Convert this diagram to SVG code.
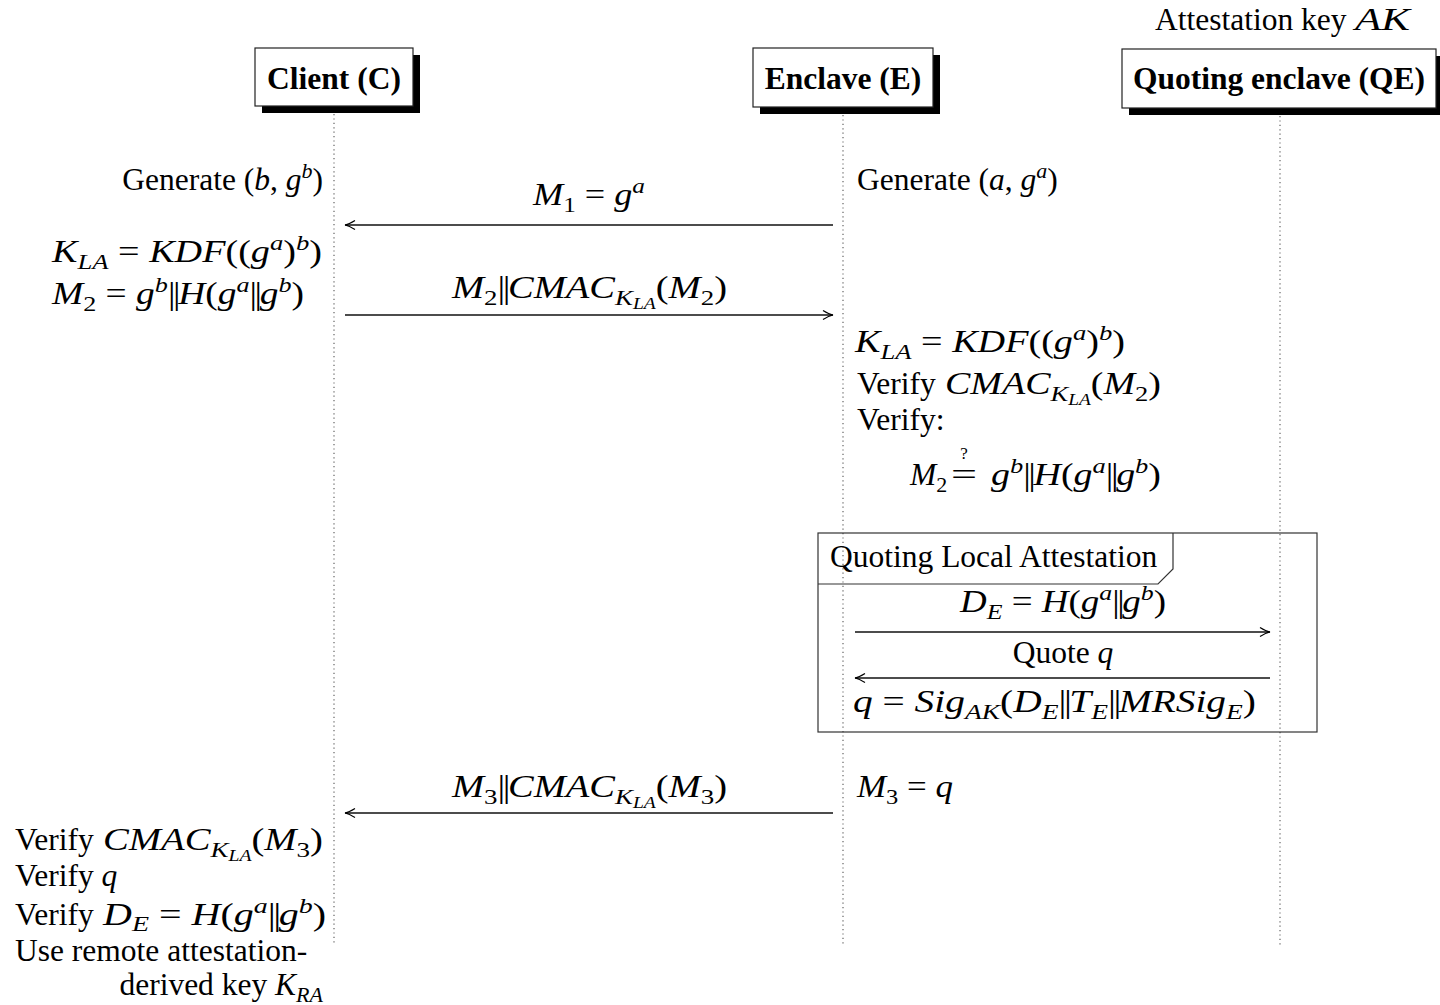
<svg xmlns="http://www.w3.org/2000/svg" width="1440" height="1005" viewBox="0 0 1440 1005">
<style>
text{font-family:"Liberation Serif","Times New Roman",serif;font-size:31.5px;fill:#000}
.b{font-weight:bold}
.i{font-style:italic}
.s{font-size:22px}
.ss{font-size:16px}
.q{font-size:17px}
.bar{letter-spacing:-2px}
.box{fill:#fff;stroke:#222;stroke-width:1.2}
.shadow{fill:#000}
.life{stroke:#555;stroke-width:1.1;stroke-dasharray:1.2 3.2;fill:none}
.msg{stroke:#111;stroke-width:1.3;fill:none;marker-end:url(#ah)}
.frame{fill:none;stroke:#333;stroke-width:1.2}
</style>
<defs>
<marker id="ah" markerUnits="userSpaceOnUse" markerWidth="14" markerHeight="12" viewBox="-12 -6 14 12" refX="0" refY="0" orient="auto" overflow="visible">
<path d="M-10,-4.5 C-6,-2 -3,-0.6 0,0 C-3,0.6 -6,2 -10,4.5" fill="none" stroke="#000" stroke-width="1.2"/>
</marker>
</defs>

<g id="qe-key">
<text x="1155" y="30">Attestation key</text>
<text class="i" x="1355" y="30" textLength="55" lengthAdjust="spacingAndGlyphs">AK</text>
</g>

<g id="client">
<rect class="shadow" x="262" y="55" width="158" height="58"/>
<rect class="box" x="255" y="48" width="158" height="58"/>
<text class="b" x="334" y="89" text-anchor="middle">Client (C)</text>
</g>
<g id="enclave">
<rect class="shadow" x="760" y="55" width="180" height="59"/>
<rect class="box" x="753" y="48" width="180" height="59"/>
<text class="b" x="843" y="89" text-anchor="middle">Enclave (E)</text>
</g>
<g id="qe">
<rect class="shadow" x="1129" y="56" width="314" height="59"/>
<rect class="box" x="1122" y="49" width="314" height="59"/>
<text class="b" x="1279" y="89" text-anchor="middle">Quoting enclave (QE)</text>
</g>

<g id="lifelines">
<line class="life" x1="334" y1="114" x2="334" y2="945"/>
<line class="life" x1="843" y1="115" x2="843" y2="945"/>
<line class="life" x1="1280" y1="116" x2="1280" y2="945"/>
</g>

<g id="frame">
<rect class="frame" x="818" y="533" width="499" height="199"/>
<path class="frame" d="M818,584 L1158,584 L1173,569 L1173,533"/>
<text x="830" y="567">Quoting Local Attestation</text>
</g>

<g id="connectors">
<line class="msg" x1="833" y1="225" x2="345" y2="225"/>
<line class="msg" x1="345" y1="315" x2="833" y2="315"/>
<line class="msg" x1="855" y1="632" x2="1270" y2="632"/>
<line class="msg" x1="1270" y1="678" x2="855" y2="678"/>
<line class="msg" x1="833" y1="813" x2="345" y2="813"/>
</g>

<g id="labels">
<text x="533" y="205" textLength="112" lengthAdjust="spacingAndGlyphs"><tspan class="i">M</tspan><tspan class="s" dy="7">1</tspan><tspan dy="-7"> = </tspan><tspan class="i">g</tspan><tspan class="i s" dy="-12">a</tspan></text>
<text x="452" y="298" textLength="275" lengthAdjust="spacingAndGlyphs"><tspan class="i">M</tspan><tspan class="s" dy="7">2</tspan><tspan class="bar" dy="-7">||</tspan><tspan class="i">CMAC</tspan><tspan class="i s" dy="7">K</tspan><tspan class="i ss" dy="4">LA</tspan><tspan dy="-11">(</tspan><tspan class="i">M</tspan><tspan class="s" dy="7">2</tspan><tspan dy="-7">)</tspan></text>
<text x="960" y="612" textLength="206" lengthAdjust="spacingAndGlyphs"><tspan class="i">D</tspan><tspan class="i s" dy="7">E</tspan><tspan dy="-7"> = </tspan><tspan class="i">H</tspan><tspan>(</tspan><tspan class="i">g</tspan><tspan class="i s" dy="-12">a</tspan><tspan class="bar" dy="12">||</tspan><tspan class="i">g</tspan><tspan class="i s" dy="-12">b</tspan><tspan dy="12">)</tspan></text>
<text x="1063" y="663" text-anchor="middle">Quote <tspan class="i">q</tspan></text>
<text x="853" y="712" textLength="403" lengthAdjust="spacingAndGlyphs"><tspan class="i">q</tspan><tspan> = </tspan><tspan class="i">Sig</tspan><tspan class="i s" dy="7">AK</tspan><tspan dy="-7">(</tspan><tspan class="i">D</tspan><tspan class="i s" dy="7">E</tspan><tspan class="bar" dy="-7">||</tspan><tspan class="i">T</tspan><tspan class="i s" dy="7">E</tspan><tspan class="bar" dy="-7">||</tspan><tspan class="i">MRSig</tspan><tspan class="i s" dy="7">E</tspan><tspan dy="-7">)</tspan></text>
<text x="452" y="797" textLength="275" lengthAdjust="spacingAndGlyphs"><tspan class="i">M</tspan><tspan class="s" dy="7">3</tspan><tspan class="bar" dy="-7">||</tspan><tspan class="i">CMAC</tspan><tspan class="i s" dy="7">K</tspan><tspan class="i ss" dy="4">LA</tspan><tspan dy="-11">(</tspan><tspan class="i">M</tspan><tspan class="s" dy="7">3</tspan><tspan dy="-7">)</tspan></text>
</g>

<g id="client-notes">
<text x="323" y="190" text-anchor="end">Generate (<tspan class="i">b</tspan>, <tspan class="i">g</tspan><tspan class="i s" dy="-12">b</tspan><tspan dy="12">)</tspan></text>
<text x="52" y="262" textLength="270" lengthAdjust="spacingAndGlyphs"><tspan class="i">K</tspan><tspan class="i s" dy="7">LA</tspan><tspan dy="-7"> = </tspan><tspan class="i">KDF</tspan><tspan>((</tspan><tspan class="i">g</tspan><tspan class="i s" dy="-12">a</tspan><tspan dy="12">)</tspan><tspan class="i s" dy="-12">b</tspan><tspan dy="12">)</tspan></text>
<text x="52" y="304" textLength="252" lengthAdjust="spacingAndGlyphs"><tspan class="i">M</tspan><tspan class="s" dy="7">2</tspan><tspan dy="-7"> = </tspan><tspan class="i">g</tspan><tspan class="i s" dy="-12">b</tspan><tspan class="bar" dy="12">||</tspan><tspan class="i">H</tspan><tspan>(</tspan><tspan class="i">g</tspan><tspan class="i s" dy="-12">a</tspan><tspan class="bar" dy="12">||</tspan><tspan class="i">g</tspan><tspan class="i s" dy="-12">b</tspan><tspan dy="12">)</tspan></text>
<text x="15" y="850">Verify</text>
<text x="103" y="850" textLength="220" lengthAdjust="spacingAndGlyphs"><tspan class="i">CMAC</tspan><tspan class="i s" dy="7">K</tspan><tspan class="i ss" dy="4">LA</tspan><tspan dy="-11">(</tspan><tspan class="i">M</tspan><tspan class="s" dy="7">3</tspan><tspan dy="-7">)</tspan></text>
<text x="15" y="886">Verify <tspan class="i">q</tspan></text>
<text x="15" y="925">Verify</text>
<text x="103" y="925" textLength="223" lengthAdjust="spacingAndGlyphs"><tspan class="i">D</tspan><tspan class="i s" dy="6">E</tspan><tspan dy="-6"> = </tspan><tspan class="i">H</tspan><tspan>(</tspan><tspan class="i">g</tspan><tspan class="i s" dy="-12">a</tspan><tspan class="bar" dy="12">||</tspan><tspan class="i">g</tspan><tspan class="i s" dy="-12">b</tspan><tspan dy="12">)</tspan></text>
<text x="15" y="961">Use remote attestation-</text>
<text x="323" y="995" text-anchor="end">derived key <tspan class="i">K</tspan><tspan class="i s" dy="7">RA</tspan></text>
</g>

<g id="enclave-notes">
<text x="857" y="190">Generate (<tspan class="i">a</tspan>, <tspan class="i">g</tspan><tspan class="i s" dy="-12">a</tspan><tspan dy="12">)</tspan></text>
<text x="855" y="352" textLength="270" lengthAdjust="spacingAndGlyphs"><tspan class="i">K</tspan><tspan class="i s" dy="7">LA</tspan><tspan dy="-7"> = </tspan><tspan class="i">KDF</tspan><tspan>((</tspan><tspan class="i">g</tspan><tspan class="i s" dy="-12">a</tspan><tspan dy="12">)</tspan><tspan class="i s" dy="-12">b</tspan><tspan dy="12">)</tspan></text>
<text x="857" y="394">Verify</text>
<text x="945" y="394" textLength="216" lengthAdjust="spacingAndGlyphs"><tspan class="i">CMAC</tspan><tspan class="i s" dy="7">K</tspan><tspan class="i ss" dy="4">LA</tspan><tspan dy="-11">(</tspan><tspan class="i">M</tspan><tspan class="s" dy="7">2</tspan><tspan dy="-7">)</tspan></text>
<text x="857" y="430">Verify:</text>
<text x="910" y="485"><tspan class="i">M</tspan><tspan class="s" dy="7">2</tspan></text>
<text x="951" y="485" textLength="26" lengthAdjust="spacingAndGlyphs">=</text>
<text class="q" x="964" y="459" text-anchor="middle">?</text>
<text x="991" y="485" textLength="170" lengthAdjust="spacingAndGlyphs"><tspan class="i">g</tspan><tspan class="i s" dy="-12">b</tspan><tspan class="bar" dy="12">||</tspan><tspan class="i">H</tspan><tspan>(</tspan><tspan class="i">g</tspan><tspan class="i s" dy="-12">a</tspan><tspan class="bar" dy="12">||</tspan><tspan class="i">g</tspan><tspan class="i s" dy="-12">b</tspan><tspan dy="12">)</tspan></text>
<text x="857" y="797" textLength="96" lengthAdjust="spacingAndGlyphs"><tspan class="i">M</tspan><tspan class="s" dy="7">3</tspan><tspan dy="-7"> = </tspan><tspan class="i">q</tspan></text>
</g>
</svg>
